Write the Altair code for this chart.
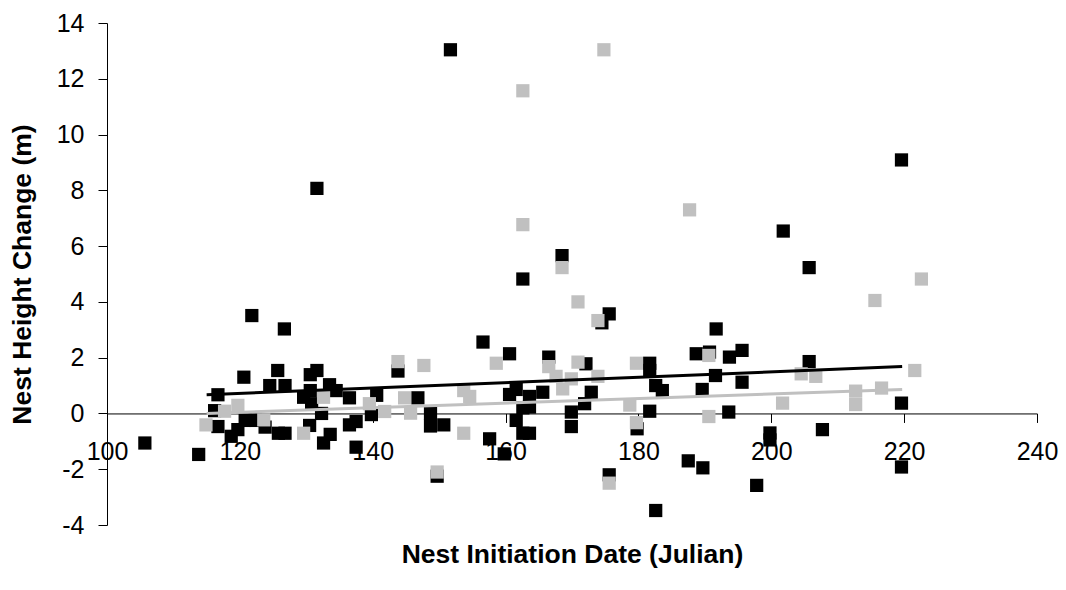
import altair as alt
import pandas as pd

# ---- data ----
black_x = [105.7, 113.8, 116.7, 116.2, 116.7, 118.7, 119.7, 120.6, 120.8, 121.8,
           122.3, 123.8, 124.5, 125.7, 125.8, 126.7, 126.8, 126.8, 129.6, 130.5,
           130.6, 130.6, 130.8, 131.6, 131.6, 132.6, 132.3, 133.5, 133.6, 134.5,
           136.5, 136.5, 137.5, 137.5, 140.6, 139.8, 143.8, 146.8, 148.7, 148.7,
           150.7, 149.7, 151.7, 156.6, 157.6, 159.8, 160.6, 160.6, 161.6, 161.6,
           162.6, 162.6, 162.6, 163.6, 163.6, 163.6, 165.6, 166.5, 168.5, 169.9,
           169.9, 171.9, 172.9, 172.1, 174.5, 175.6, 175.6, 179.8, 181.7, 181.7,
           181.7, 182.6, 183.6, 182.6, 187.5, 188.7, 189.6, 189.7, 190.7, 191.6,
           191.7, 193.6, 193.7, 195.6, 195.6, 197.8, 199.8, 199.8, 201.8, 205.7,
           205.7, 207.7, 219.6, 219.6, 219.6]
black_y = [-1.06, -1.47, 0.67, 0.10, -0.47, -0.82, -0.58, 1.30, -0.25, 3.51,
           -0.25, -0.49, 1.00, 1.54, -0.71, 3.03, 1.00, -0.71, 0.58, -0.43,
           1.39, 0.82, 0.35, 1.54, 8.07, -1.06, 0.00, 1.03, -0.75, 0.82,
           0.56, -0.41, -0.29, -1.21, 0.65, -0.04, 1.52, 0.56, 0.00, -0.45,
           -0.41, -2.25, 13.04, 2.56, -0.91, -1.45, 2.14, 0.68, 0.86, -0.25,
           0.20, -0.71, 4.82, 0.61, 0.23, -0.71, 0.76, 2.02, 5.66, 0.05,
           -0.47, 0.35, 0.76, 1.78, 3.25, 3.57, -2.20, -0.55, 1.80, 1.54,
           0.08, 1.00, 0.82, -3.48, -1.70, 2.14, 0.86, -1.95, 2.20, 1.36,
           3.03, 0.05, 2.02, 2.26, 1.12, -2.58, -0.70, -0.95, 6.54, 5.23,
           1.86, -0.58, 9.09, 0.37, -1.92]

gray_x = [114.9, 117.7, 119.7, 123.6, 129.6, 132.6, 139.5, 141.8, 143.8, 144.8,
          145.7, 147.7, 149.7, 153.7, 154.6, 153.7, 158.6, 162.6, 162.6, 166.5,
          167.6, 168.6, 168.5, 169.9, 170.9, 170.9, 173.9, 173.9, 174.8, 175.6,
          178.7, 179.7, 179.7, 187.7, 190.6, 190.6, 201.7, 204.5, 206.7, 212.7,
          212.7, 215.6, 216.6, 221.6, 222.6]
gray_y = [-0.41, 0.08, 0.29, -0.23, -0.71, 0.58, 0.35, 0.07, 1.86, 0.56,
          0.01, 1.72, -2.10, 0.82, 0.61, -0.71, 1.80, 11.57, 6.77, 1.68,
          1.33, 0.88, 5.23, 1.24, 1.84, 4.00, 3.33, 1.33, 13.04, -2.50,
          0.30, 1.80, -0.33, 7.30, 2.08, -0.11, 0.37, 1.42, 1.33, 0.80,
          0.32, 4.05, 0.91, 1.54, 4.82]

trend_x = [115.0, 219.7]
black_trend_y = [0.67, 1.68]
gray_trend_y = [0.00, 0.86]

x_ticks = [100, 120, 140, 160, 180, 200, 220, 240]
y_ticks = [-4, -2, 0, 2, 4, 6, 8, 10, 12, 14]

# ---- tables ----
pts = pd.DataFrame({
    "date": black_x + gray_x,
    "change": black_y + gray_y,
    "series": ["black"] * len(black_x) + ["gray"] * len(gray_x),
})
trend = pd.DataFrame({
    "date": trend_x + trend_x,
    "change": black_trend_y + gray_trend_y,
    "series": ["black", "black", "gray", "gray"],
})

W, H = 930, 502
FONT = "Liberation Sans"

xscale = alt.Scale(domain=[100, 240], nice=False, zero=False)
yscale = alt.Scale(domain=[-4, 14], nice=False, zero=False)
cscale = alt.Scale(domain=["black", "gray"], range=["#000000", "#c0c0c0"])

xaxis = alt.Axis(
    title="Nest Initiation Date (Julian)", values=x_ticks, offset=-H * 4 / 18,
    grid=False, tickSize=9, labelPadding=17, titlePadding=77,
    labelFlush=False, labelOverlap=False, labelExpr="'' + datum.value",
    domainColor="black", tickColor="black", labelColor="black", titleColor="black",
    labelFont=FONT, titleFont=FONT, labelFontSize=25, titleFontSize=26.5,
    titleFontWeight="bold",
)
yaxis = alt.Axis(
    title="Nest Height Change (m)", values=y_ticks, grid=False,
    tickSize=9, labelPadding=14, titlePadding=20,
    labelFlush=False, labelOverlap=False, labelExpr="'' + datum.value",
    domainColor="black", tickColor="black", labelColor="black", titleColor="black",
    labelFont=FONT, titleFont=FONT, labelFontSize=25, titleFontSize=26.5,
    titleFontWeight="bold",
)

points = alt.Chart(pts).mark_square(size=175, opacity=1, strokeWidth=0).encode(
    x=alt.X("date:Q", scale=xscale, axis=xaxis),
    y=alt.Y("change:Q", scale=yscale, axis=yaxis),
    color=alt.Color("series:N", scale=cscale, legend=None),
)

lines = alt.Chart(trend).mark_line(strokeWidth=3).encode(
    x=alt.X("date:Q", scale=xscale),
    y=alt.Y("change:Q", scale=yscale),
    color=alt.Color("series:N", scale=cscale, legend=None),
    detail="series:N",
)

chart = alt.layer(points, lines).properties(
    width=W, height=H,
    autosize=alt.AutoSizeParams(type="none"),
    padding={"left": 107, "top": 23, "right": 29, "bottom": 65},
    background="white",
).configure_view(stroke="transparent")

chart.save("out.html", embed_options={"renderer": "svg", "actions": False})
